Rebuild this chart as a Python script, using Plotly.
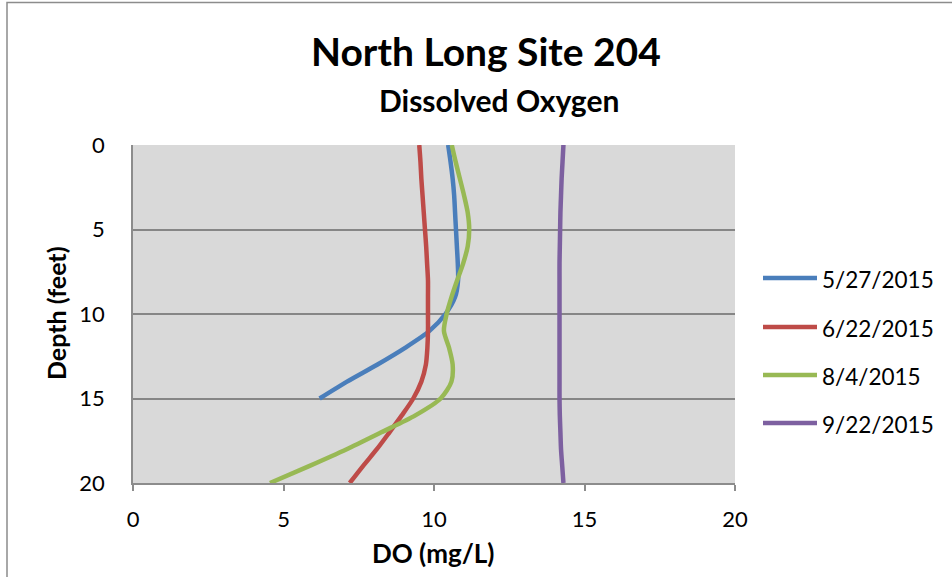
import plotly.graph_objects as go

# Dissolved oxygen profiles, North Long Site 204
depth_ft = [0, 1, 2, 3, 4, 5, 6, 7, 8, 9, 10, 11, 12, 13, 14, 15, 16, 17, 18, 19, 20]

do_0527 = [10.47, 10.55, 10.62, 10.67, 10.70, 10.73, 10.76, 10.79, 10.80, 10.70,
           10.38, 9.85, 9.04, 8.11, 7.11, 6.20]
do_0622 = [9.51, 9.55, 9.58, 9.62, 9.66, 9.70, 9.74, 9.77, 9.80, 9.80,
           9.80, 9.80, 9.78, 9.73, 9.58, 9.31, 8.93, 8.52, 8.10, 7.64, 7.20]
do_0804 = [10.59, 10.72, 10.86, 11.00, 11.12, 11.17, 11.12, 10.97, 10.77, 10.58,
           10.42, 10.33, 10.50, 10.62, 10.58, 10.22, 9.38, 8.25, 7.10, 5.85, 4.55]
do_0922 = [14.30, 14.27, 14.24, 14.22, 14.20, 14.19, 14.18, 14.17, 14.17, 14.17,
           14.17, 14.17, 14.17, 14.17, 14.17, 14.17, 14.18, 14.20, 14.22, 14.26, 14.30]

dates = ["5/27/2015", "6/22/2015", "8/4/2015", "9/22/2015"]
profiles = [do_0527, do_0622, do_0804, do_0922]
colors = ["#4A7EBB", "#BE4B48", "#98B954", "#7D60A0"]

x_ticks = [0, 5, 10, 15, 20]
y_ticks = [0, 5, 10, 15, 20]

W, H = 952, 577
L, R, T, B = 133, 217, 145, 94
PW, PH = W - L - R, H - T - B

FONT = "Lato, 'Open Sans', sans-serif"


def px_x(px):
    return (px - L) / PW


def px_y(py):
    return (H - B - py) / PH


fig = go.Figure()
for name, vals, col in zip(dates, profiles, colors):
    fig.add_trace(go.Scatter(
        x=vals, y=depth_ft[:len(vals)], mode="lines", name=name,
        line=dict(color=col, width=4.5, shape="spline", smoothing=0.8),
        showlegend=False,
    ))

# Legend drawn at the right of the plot area
legend_rows = [278, 327, 375, 423]
for name, col, ry in zip(dates, colors, legend_rows):
    fig.add_shape(type="line", xref="paper", yref="paper",
                  x0=px_x(763), x1=px_x(817), y0=px_y(ry), y1=px_y(ry),
                  line=dict(color=col, width=4.5))
    fig.add_annotation(text=name, xref="paper", yref="paper",
                       x=px_x(820), y=px_y(ry + 1), xanchor="left", yanchor="middle",
                       showarrow=False, font=dict(family=FONT, size=22.5, color="#000000"))

# Chart border
fig.add_shape(type="rect", xref="paper", yref="paper",
              x0=px_x(7), x1=px_x(1200), y0=px_y(2.5), y1=px_y(900),
              line=dict(color="#8C8C8C", width=1.5), layer="below")

# Titles
fig.add_annotation(text="<b>North Long Site 204</b>", xref="paper", yref="paper",
                   x=px_x(486), y=px_y(51), xanchor="center", yanchor="middle",
                   showarrow=False, font=dict(family=FONT, size=39, color="#000000"))
fig.add_annotation(text="<b>Dissolved Oxygen</b>", xref="paper", yref="paper",
                   x=px_x(499), y=px_y(100), xanchor="center", yanchor="middle",
                   showarrow=False, font=dict(family=FONT, size=30, color="#000000"))
fig.add_annotation(text="<b>DO (mg/L)</b>", xref="paper", yref="paper",
                   x=px_x(433), y=px_y(553), xanchor="center", yanchor="middle",
                   showarrow=False, font=dict(family=FONT, size=26, color="#000000"))
fig.add_annotation(text="<b>Depth (feet)</b>", xref="paper", yref="paper",
                   x=px_x(56), y=px_y(313), xanchor="center", yanchor="middle",
                   textangle=-90, showarrow=False,
                   font=dict(family=FONT, size=25, color="#000000"))

fig.update_layout(
    width=W, height=H,
    margin=dict(l=L, r=R, t=T, b=B),
    paper_bgcolor="#FFFFFF",
    plot_bgcolor="#D9D9D9",
    font=dict(family=FONT, size=22, color="#000000"),
    xaxis=dict(range=[0, 20], tickvals=x_ticks, ticktext=[str(v) for v in x_ticks],
               showgrid=False, zeroline=False, showline=True, linecolor="#8C8C8C",
               linewidth=1.5, ticks="outside", ticklen=6, tickcolor="#8C8C8C",
               tickwidth=1.5, ticklabelstandoff=10, mirror=False),
    yaxis=dict(range=[20, 0], tickvals=y_ticks, ticktext=[str(v) for v in y_ticks],
               showgrid=True, gridcolor="#868686", gridwidth=1.5, zeroline=False,
               showline=True, linecolor="#8C8C8C", linewidth=1.5, ticks="",
               ticklabelstandoff=22),
)

fig.write_html("out.html")
